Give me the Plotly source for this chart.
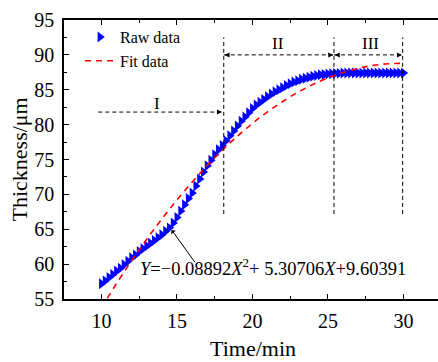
import plotly.graph_objects as go

# ---- data ----
time_raw = [10.00, 10.25, 10.50, 10.75, 11.00, 11.25, 11.50, 11.75, 12.00, 12.25,
            12.50, 12.75, 13.00, 13.25, 13.50, 13.75, 14.00, 14.25, 14.50, 14.75,
            15.00, 15.25, 15.50, 15.75, 16.00, 16.25, 16.50, 16.75, 17.00, 17.25,
            17.50, 17.75, 18.00, 18.25, 18.50, 18.75, 19.00, 19.25, 19.50, 19.75,
            20.00, 20.25, 20.50, 20.75, 21.00, 21.25, 21.50, 21.75, 22.00, 22.25,
            22.50, 22.75, 23.00, 23.25, 23.50, 23.75, 24.00, 24.25, 24.50, 24.75,
            25.00, 25.25, 25.50, 25.75, 26.00, 26.25, 26.50, 26.75, 27.00, 27.25,
            27.50, 27.75, 28.00, 28.25, 28.50, 28.75, 29.00, 29.25, 29.50, 29.75, 30.00]
thick_raw = [57.2, 57.6, 58.1, 58.5, 59.0, 59.4, 59.9, 60.4, 60.9, 61.3,
             61.8, 62.2, 62.6, 63.0, 63.4, 63.8, 64.2, 64.7, 65.2, 65.9,
             66.7, 67.6, 68.5, 69.4, 70.2, 71.2, 72.2, 73.2, 74.1, 74.9,
             75.7, 76.4, 77.0, 77.7, 78.4, 79.1, 79.8, 80.5, 81.1, 81.7,
             82.3, 82.8, 83.2, 83.6, 84.0, 84.4, 84.7, 85.0, 85.3, 85.6,
             85.85, 86.1, 86.3, 86.5, 86.65, 86.8, 86.95, 87.05, 87.15, 87.2,
             87.25, 87.3, 87.35, 87.35, 87.4, 87.4, 87.4, 87.4, 87.4, 87.4,
             87.4, 87.4, 87.4, 87.4, 87.4, 87.4, 87.4, 87.4, 87.4, 87.4, 87.4]

time_fit = [10, 11, 12, 13, 14, 15, 16, 17, 18, 19, 20,
            21, 22, 23, 24, 25, 26, 27, 28, 29, 30]
thick_fit = [53.78, 57.22, 60.48, 63.57, 66.47, 69.20, 71.75, 74.13, 76.32, 78.34, 80.18,
             81.84, 83.32, 84.63, 85.75, 86.71, 87.48, 88.07, 88.49, 88.73, 88.79]

x_ticks = [10, 15, 20, 25, 30]
y_ticks = [55, 60, 65, 70, 75, 80, 85, 90, 95]

stage_bounds = [18.1, 25.4, 29.95]
equation = "<i>Y</i>=\u22120.08892<i>X</i><sup>2</sup>+ 5.30706<i>X</i>+9.60391"

FONT = "Liberation Serif"

fig = go.Figure()
fig.add_trace(go.Scatter(
    x=time_raw, y=thick_raw, mode="markers", name="Raw data",
    marker=dict(symbol="triangle-right", size=9.5, color="#0000FF", line=dict(width=0)),
))
fig.add_trace(go.Scatter(
    x=time_fit, y=thick_fit, mode="lines", name="Fit data", line_shape="spline",
    line=dict(color="#FF0000", width=1.6, dash="6px,5px"),
))

shapes = []
dash_black = dict(color="black", width=1, dash="4px,3px")
for xb in stage_bounds:
    shapes.append(dict(type="line", xref="x", yref="y", x0=xb, x1=xb, y0=67.2, y1=92.5, line=dash_black))
shapes.append(dict(type="line", xref="x", yref="y", x0=9.79, x1=17.98, y0=81.8, y1=81.8, line=dash_black))
shapes.append(dict(type="line", xref="x", yref="y", x0=18.1, x1=25.4, y0=90, y1=90, line=dash_black))
shapes.append(dict(type="line", xref="x", yref="y", x0=25.4, x1=29.95, y0=90, y1=90, line=dash_black))

annotations = []
def head(xh, yh, xt):
    annotations.append(dict(x=xh, y=yh, ax=xt, ay=yh, xref="x", yref="y", axref="x", ayref="y",
                            text="", showarrow=True, arrowhead=2, arrowsize=1, arrowwidth=1,
                            arrowcolor="black"))
head(17.98, 81.8, 17.6)
head(18.15, 90, 18.5)
head(25.35, 90, 25.0)
head(25.45, 90, 25.8)
head(29.9, 90, 29.5)

lab_font = dict(family=FONT, size=17, color="black")
annotations.append(dict(x=13.7, y=83.1, xref="x", yref="y", text="I", showarrow=False, font=lab_font))
annotations.append(dict(x=21.7, y=91.7, xref="x", yref="y", text="II", showarrow=False, font=lab_font))
annotations.append(dict(x=27.85, y=91.7, xref="x", yref="y", text="III", showarrow=False, font=lab_font))
annotations.append(dict(x=14.65, y=64.9, ax=16.26, ay=60.06, xref="x", yref="y", axref="x", ayref="y",
                        text="", showarrow=True, arrowhead=1, arrowsize=1, arrowwidth=1, arrowcolor="black"))
annotations.append(dict(x=12.4, y=59.6, xref="x", yref="y", text=equation, showarrow=False,
                        xanchor="left", yanchor="middle",
                        font=dict(family=FONT, size=18.5, color="black")))
annotations.append(dict(x=(19 - 64) / 374, y=0.5, xref="paper", yref="paper", text="Thickness/\u03bcm",
                        textangle=-90, showarrow=False, xanchor="center", yanchor="middle",
                        font=dict(family=FONT, size=22, color="black")))
annotations.append(dict(x=(253 - 64) / 374, y=(299 - 348) / 279, xref="paper", yref="paper", text="Time/min",
                        showarrow=False, xanchor="center", yanchor="middle",
                        font=dict(family=FONT, size=22, color="black")))

fig.update_layout(
    width=438, height=362,
    margin=dict(l=64, r=0, t=20, b=63, autoexpand=False),
    paper_bgcolor="white", plot_bgcolor="white",
    shapes=shapes, annotations=annotations,
    showlegend=True,
    legend=dict(x=(80 - 64) / 374, y=1.0, xanchor="left", yanchor="top",
                bgcolor="rgba(0,0,0,0)", font=dict(family=FONT, size=16, color="black"),
                tracegroupgap=0),
    font=dict(family=FONT, color="black"),
)
fig.update_xaxes(
    range=[7.52, 32.29], tickvals=x_ticks, ticktext=[str(v) for v in x_ticks],
    showgrid=False, zeroline=False, showline=True, linecolor="black", linewidth=1.5,
    mirror="ticks", ticks="inside", ticklen=5, tickwidth=1, tickcolor="black",
    minor=dict(ticks="inside", ticklen=3, dtick=2.5, tick0=7.5, tickcolor="black"),
    tickfont=dict(family=FONT, size=20, color="black"), ticklabelstandoff=3, automargin=False,
)
fig.update_yaxes(
    range=[55, 95], tickvals=y_ticks, ticktext=[str(v) for v in y_ticks],
    showgrid=False, zeroline=False, showline=True, linecolor="black", linewidth=1.5,
    mirror=False, ticks="inside", ticklen=5, tickwidth=1, tickcolor="black",
    minor=dict(ticks="inside", ticklen=3, dtick=2.5, tick0=55, tickcolor="black"),
    tickfont=dict(family=FONT, size=20, color="black"), ticklabelstandoff=4, automargin=False,
)

fig.write_html("out.html", config={"displayModeBar": False},
               post_script="document.body.style.margin='0';")
